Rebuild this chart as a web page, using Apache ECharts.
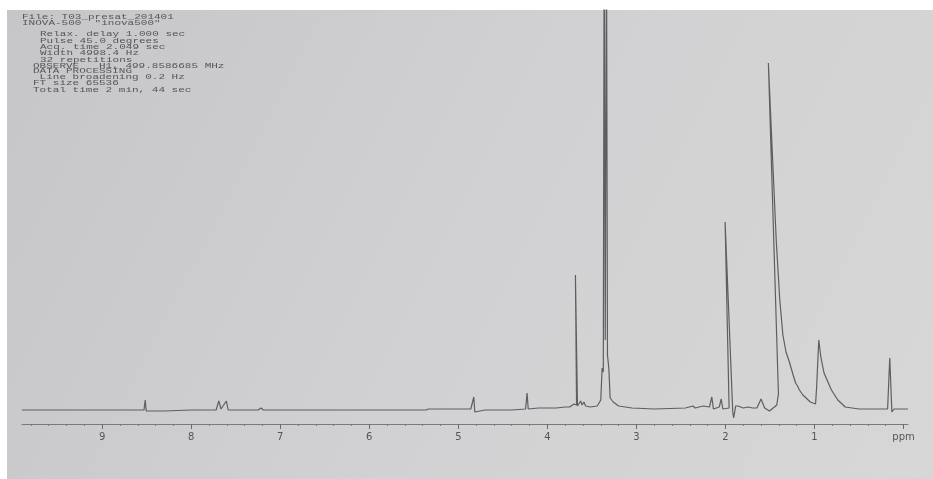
<!DOCTYPE html>
<html><head><meta charset="utf-8">
<script src="https://cdn.jsdelivr.net/npm/echarts@6/dist/echarts.min.js"></script>
<style>html,body{margin:0;padding:0;background:#fff}#c{width:933px;height:479px}</style>
</head><body><div id="c"></div>
<script>
// Chemical shift (ppm) and intensity of the traced 1H NMR spectrum
const ppm = [9.90, 8.53, 8.516, 8.505, 8.30, 8.00, 7.72, 7.69, 7.665, 7.645, 7.605, 7.585, 7.25, 7.215, 7.19, 6.96, 6.945, 6.93,
  5.36, 5.337, 5.20, 4.86, 4.838, 4.826, 4.815, 4.80, 4.70, 4.40, 4.245, 4.228, 4.215, 4.10, 3.90, 3.80, 3.75, 3.70,
  3.672, 3.685, 3.662, 3.64, 3.625, 3.61, 3.59, 3.57, 3.52, 3.44, 3.40, 3.385, 3.372, 3.362, 3.35, 3.336, 3.325, 3.31, 3.295,
  3.26, 3.20, 3.05, 2.80, 2.45, 2.365, 2.34, 2.25, 2.23, 2.18, 2.153, 2.135, 2.07, 2.047, 2.03,
  1.959, 2.004, 1.918, 1.908, 1.885, 1.859, 1.80, 1.75, 1.694, 1.647, 1.60, 1.56, 1.506, 1.45, 1.424, 1.405,
  1.518, 1.47, 1.43, 1.39, 1.355, 1.32, 1.282, 1.24, 1.212, 1.19, 1.17, 1.13, 1.047, 0.988,
  0.976, 0.952, 0.929, 0.893, 0.81, 0.738, 0.655, 0.50, 0.179, 0.17, 0.155, 0.131, 0.107, 0.06, -0.05];
const intensity = [0, 0, 10, -1, -1, 0, 0, 9, 1, 1, 9, 0, 0, 2, 0, 0, 1, 0,
  0, 1, 1, 1, 1, 13, -2, -1, 0, 0, 1, 17, 1, 2, 2, 3, 3, 6,
  5, 135, 4, 4, 9, 5, 8, 4, 3, 4, 10, 42, 38, 480, 70, 480, 55, 42, 12,
  8, 4, 2, 1, 2, 4, 2, 4, 3, 3, 13, 1, 3, 11, 1,
  2, 188, -2, -8, 4, 4, 2, 3, 2, 2, 11, 2, -1, 3, 5, 16,
  347, 250, 170, 110, 75, 58, 48, 35, 27, 24, 20, 15, 8, 6,
  23, 70, 53, 37, 20, 10, 3, 1, 1, 1, 52, -2, 1, 1, 1];

const majorTicks = [0, 1, 2, 3, 4, 5, 6, 7, 8, 9];
const majorLabels = ['ppm', '1', '2', '3', '4', '5', '6', '7', '8', '9'];
const minorTicks = [0.2, 0.4, 0.6, 0.8, 1.2, 1.4, 1.6, 1.8, 2.2, 2.4, 2.6, 2.8, 3.2, 3.4, 3.6, 3.8,
  4.2, 4.4, 4.6, 4.8, 5.2, 5.4, 5.6, 5.8, 6.2, 6.4, 6.6, 6.8, 7.2, 7.4, 7.6, 7.8, 8.2, 8.4, 8.6, 8.8, 9.2, 9.4, 9.6, 9.8];

const headerLines = [
  'File: T03_presat_201401',
  'INOVA-500  "inova500"',
  'Relax. delay 1.000 sec',
  'Pulse 45.0 degrees',
  'Acq. time 2.049 sec',
  'Width 4998.4 Hz',
  '32 repetitions',
  'OBSERVE   H1, 499.8586685 MHz',
  'DATA PROCESSING',
  ' Line broadening 0.2 Hz',
  'FT size 65536',
  'Total time 2 min, 44 sec'
];
const headerX = [22, 22, 40, 40, 40, 40, 40, 33, 33, 33, 33, 33];
const headerY = [17, 23, 34, 41, 47, 53, 60, 66, 71, 77, 83, 90];

const chart = echarts.init(document.getElementById('c'), null, {renderer: 'canvas'});
const data = ppm.map((p, i) => [p, intensity[i]]);

const graphics = [{
  type: 'rect', z: -100, silent: true,
  shape: {x: 7, y: 10, width: 926, height: 469},
  style: {fill: new echarts.graphic.LinearGradient(0, 0, 1, 1, [
    {offset: 0, color: '#c6c6c9'}, {offset: 0.5, color: '#d1d1d3'}, {offset: 1, color: '#d7d7d7'}])}
}];
headerLines.forEach((t, i) => {
  graphics.push({
    type: 'text', x: headerX[i], y: headerY[i], scaleY: 0.68, z: 10, silent: true,
    style: {text: t, font: '11px "Liberation Mono"', fill: '#55555b', textVerticalAlign: 'middle'}
  });
});

chart.setOption({
  backgroundColor: '#ffffff',
  animation: false,
  graphic: graphics,
  grid: {left: 22, right: 25, top: 10, bottom: 55, containLabel: false},
  xAxis: [{
    type: 'value', inverse: true, min: -0.05, max: 9.9, position: 'bottom',
    axisLine: {show: true, onZero: false, lineStyle: {color: '#7a7a7e', width: 1}},
    axisTick: {show: true, customValues: majorTicks, length: 5, lineStyle: {color: '#6a6a6e'}},
    axisLabel: {show: true, customValues: majorTicks, margin: 8,
      formatter: v => majorLabels[majorTicks.indexOf(Math.round(v))],
      color: '#56565a', fontSize: 10, fontFamily: 'DejaVu Sans'},
    splitLine: {show: false}
  }, {
    type: 'value', inverse: true, min: -0.05, max: 9.9, position: 'bottom',
    axisLine: {show: false, onZero: false},
    axisTick: {show: true, customValues: minorTicks, length: 2, lineStyle: {color: '#7a7a7e'}},
    axisLabel: {show: false},
    splitLine: {show: false}
  }],
  yAxis: {type: 'value', min: -14, max: 400, show: false},
  series: [{
    type: 'line', xAxisIndex: 0, data: data, showSymbol: false, clip: true,
    lineStyle: {color: '#5e5e62', width: 1.2}
  }]
});
</script></body></html>
